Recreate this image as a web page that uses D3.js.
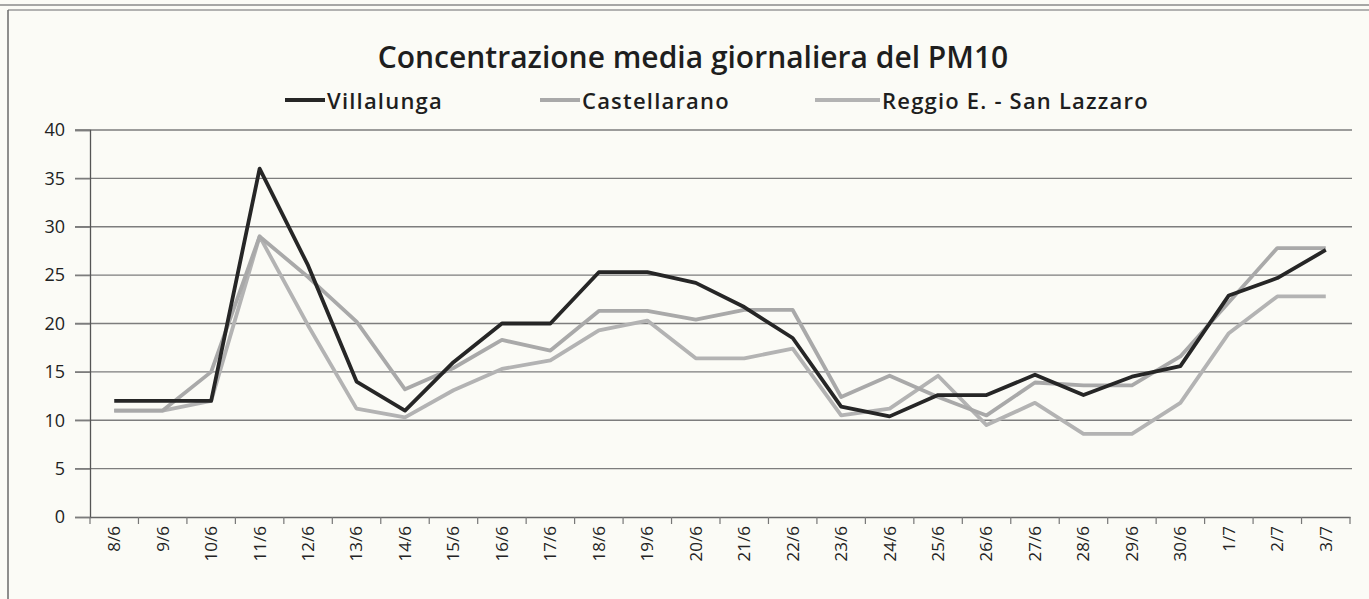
<!DOCTYPE html>
<html>
<head>
<meta charset="utf-8">
<script src="https://cdn.jsdelivr.net/npm/d3@7"></script>
<style>
  body { margin: 0; background: #fbfbf6; }
  svg { display: block; }
</style>
</head>
<body>
<svg width="1369" height="599"></svg>
<script>
// data
var days = ["8/6","9/6","10/6","11/6","12/6","13/6","14/6","15/6","16/6","17/6","18/6","19/6","20/6",
            "21/6","22/6","23/6","24/6","25/6","26/6","27/6","28/6","29/6","30/6","1/7","2/7","3/7"];
var villalunga   = [12,12,12,36,26,14,11,16,20,20,25.3,25.3,24.2,21.7,18.5,11.4,10.4,12.6,12.6,14.7,12.6,14.5,15.6,22.9,24.7,27.6];
var castellarano = [11,11,15,29,24.8,20.2,13.2,15.4,18.3,17.2,21.3,21.3,20.4,21.4,21.4,12.4,14.6,12.4,10.5,13.9,13.6,13.6,16.6,22.2,27.8,27.8];
var reggio       = [11,11,12,29,19.8,11.2,10.3,13.1,15.3,16.2,19.3,20.3,16.4,16.4,17.4,10.5,11.2,14.6,9.5,11.8,8.6,8.6,11.8,19,22.8,22.8];
var yTicks = [0,5,10,15,20,25,30,35,40];

var series = [
  {name: "Villalunga", values: villalunga, color: "#262626", lx: 285, lw: 40},
  {name: "Castellarano", values: castellarano, color: "#a9a9a9", lx: 540, lw: 40},
  {name: "Reggio E. - San Lazzaro", values: reggio, color: "#b3b3b3", lx: 815, lw: 65}
];

var svg = d3.select("svg");
var font = "'Open Sans', 'Noto Sans', sans-serif";

// scanned page frame
svg.append("line").attr("x1", 0).attr("x2", 1369).attr("y1", 5).attr("y2", 5)
  .attr("stroke", "#8a8a8a").attr("stroke-width", 1.5);
svg.append("line").attr("x1", 8).attr("x2", 1369).attr("y1", 10).attr("y2", 10)
  .attr("stroke", "#9a9a9a").attr("stroke-width", 1.5);
svg.append("line").attr("x1", 8).attr("x2", 8).attr("y1", 10).attr("y2", 599)
  .attr("stroke", "#6a6a6a").attr("stroke-width", 1.5);

var x = d3.scaleBand().domain(days).range([90, 1350]);
var y = d3.scaleLinear().domain([0, 40]).range([517, 130]);

// grid
svg.append("g").selectAll("line").data(yTicks.filter(function(d) { return d > 0; }))
  .enter().append("line")
  .attr("x1", 75).attr("x2", 1352)
  .attr("y1", function(d) { return y(d); }).attr("y2", function(d) { return y(d); })
  .attr("stroke", "#7d7d7d").attr("stroke-width", 1.3);

// y axis
var yAxis = svg.append("g").attr("transform", "translate(90,0)")
  .call(d3.axisLeft(y).tickValues(yTicks).tickSize(15).tickPadding(10));
yAxis.select(".domain").attr("stroke", "#555").attr("stroke-width", 1.3);
yAxis.selectAll(".tick line").attr("stroke", "#7d7d7d").attr("stroke-width", 1.3);
yAxis.selectAll("text").style("font-family", font).style("font-size", "18px").attr("fill", "#222");

// x axis with ticks between categories
var xAxis = svg.append("g").attr("transform", "translate(0,517)")
  .call(d3.axisBottom(x).tickSize(0).tickPadding(10));
xAxis.select(".domain").attr("stroke", "#666").attr("stroke-width", 1.5);
xAxis.selectAll("text")
  .style("font-family", font).style("font-size", "17px").attr("fill", "#222")
  .attr("transform", "rotate(-90)")
  .attr("text-anchor", "end")
  .attr("dy", "0.35em")
  .attr("x", -9).attr("y", 0);
svg.append("g").selectAll("line").data(days.concat(["end"]))
  .enter().append("line")
  .attr("x1", function(d, i) { return 90 + i * x.step(); })
  .attr("x2", function(d, i) { return 90 + i * x.step(); })
  .attr("y1", 517).attr("y2", 524)
  .attr("stroke", "#777").attr("stroke-width", 1.2);

// lines
var line = d3.line()
  .x(function(d, i) { return x(days[i]) + x.bandwidth() / 2; })
  .y(function(d) { return y(d); });

svg.append("g").selectAll("path").data(series.slice().reverse())
  .enter().append("path")
  .attr("d", function(s) { return line(s.values); })
  .attr("fill", "none")
  .attr("stroke", function(s) { return s.color; })
  .attr("stroke-width", 3.8)
  .attr("stroke-linejoin", "round");

// title
svg.append("text")
  .attr("x", 693).attr("y", 68)
  .attr("text-anchor", "middle")
  .style("font-family", font).style("font-size", "30px").style("font-weight", "600")
  .attr("fill", "#1e1e1e")
  .text("Concentrazione media giornaliera del PM10");

// legend
var lg = svg.append("g").selectAll("g").data(series).enter().append("g");
lg.append("line")
  .attr("x1", function(s) { return s.lx; })
  .attr("x2", function(s) { return s.lx + s.lw; })
  .attr("y1", 100).attr("y2", 100)
  .attr("stroke", function(s) { return s.color; })
  .attr("stroke-width", 4);
lg.append("text")
  .attr("x", function(s) { return s.lx + s.lw + 2; })
  .attr("y", 101).attr("dy", "0.35em")
  .style("font-family", font).style("font-size", "22px").style("font-weight", "600")
  .style("letter-spacing", "1.2px")
  .attr("fill", "#1e1e1e")
  .text(function(s) { return s.name; });
</script>
</body>
</html>
